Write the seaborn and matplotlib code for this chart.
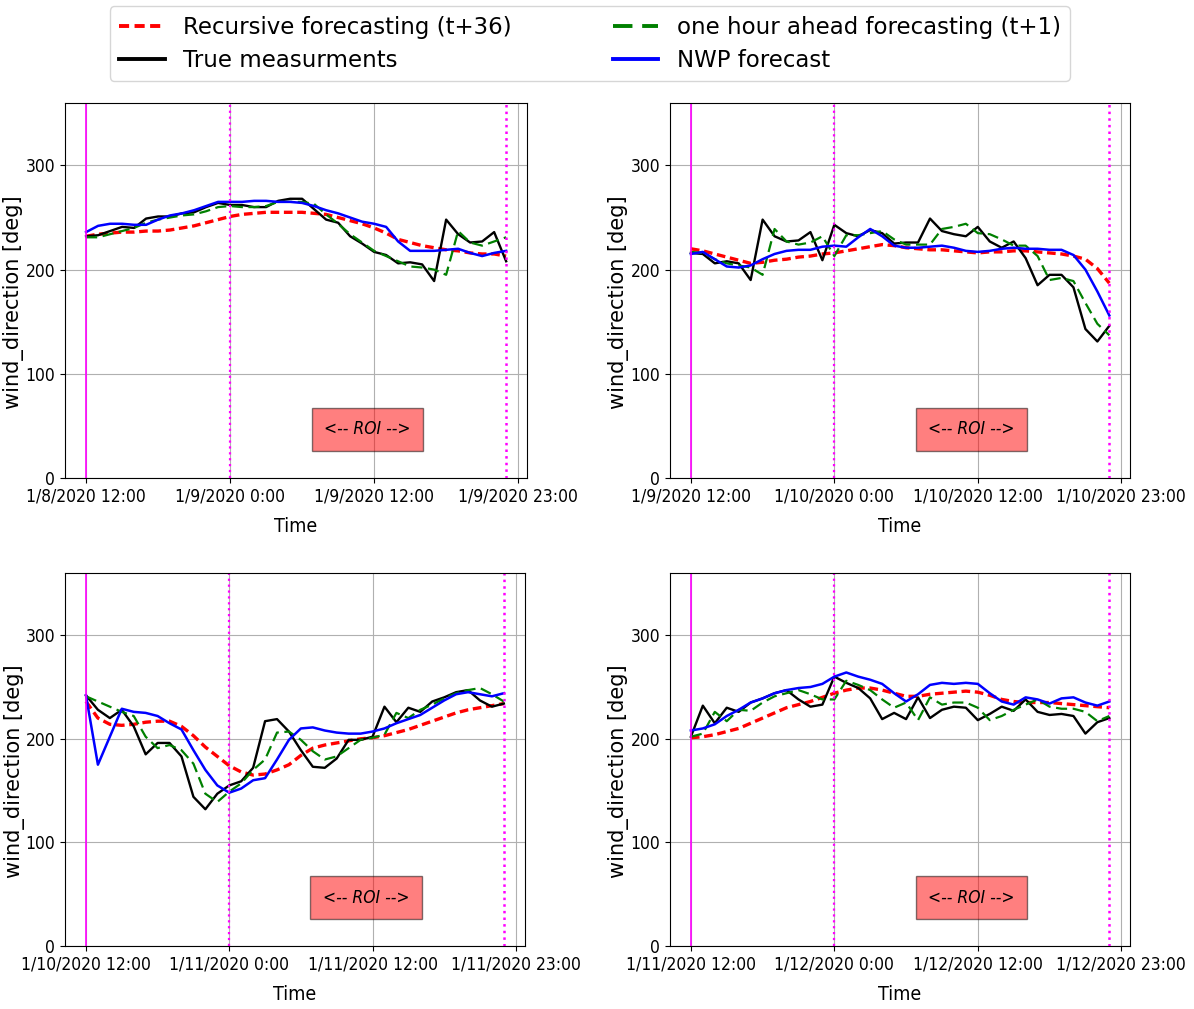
import numpy as np
import pandas as pd
import matplotlib
matplotlib.use("Agg")
import matplotlib.pyplot as plt
import seaborn as sns
from matplotlib import font_manager

# hourly index 0..35 (12:00 -> 23:00 next day)
hours = list(range(36))

# panel tick labels
tick_pos = [0, 12, 24, 36]
tick_labels = [
    ["1/8/2020 12:00", "1/9/2020 0:00", "1/9/2020 12:00", "1/9/2020 23:00"],
    ["1/9/2020 12:00", "1/10/2020 0:00", "1/10/2020 12:00", "1/10/2020 23:00"],
    ["1/10/2020 12:00", "1/11/2020 0:00", "1/11/2020 12:00", "1/11/2020 23:00"],
    ["1/11/2020 12:00", "1/12/2020 0:00", "1/12/2020 12:00", "1/12/2020 23:00"],
]

# panel 1
true_1 = [232, 233, 237, 241, 240, 249, 251, 251, 254, 255, 260, 264, 262, 262, 260, 260, 266, 268,
          268, 258, 248, 245, 232, 225, 217, 214, 206, 207, 205, 189, 248, 234, 226, 227, 236, 208]
t1_1 = [231, 231, 234, 237, 240, 245, 248, 250, 252, 253, 256, 260, 261, 260, 260, 261, 265, 265,
        265, 263, 253, 244, 234, 226, 218, 213, 208, 203, 202, 200, 195, 237, 226, 223, 227, 231]
rec_1 = [232, 234, 235, 236, 236, 237, 237, 238, 240, 242, 245, 248, 251, 253, 254, 255, 255, 255,
         255, 254, 253, 250, 247, 244, 240, 235, 229, 226, 223, 221, 219, 218, 216, 215, 215, 213]
nwp_1 = [236, 242, 244, 244, 243, 243, 248, 252, 254, 257, 261, 265, 265, 265, 266, 266, 265, 265,
         264, 261, 257, 254, 250, 246, 244, 241, 227, 218, 218, 218, 219, 220, 216, 213, 216, 218]

# panel 2
true_2 = [216, 215, 206, 208, 206, 190, 248, 232, 227, 228, 236, 209, 243, 235, 232, 238, 235, 225,
          226, 226, 249, 237, 234, 232, 241, 227, 221, 227, 211, 185, 195, 195, 183, 143, 131, 146]
t1_2 = [217, 216, 210, 206, 204, 202, 195, 239, 227, 224, 226, 232, 213, 233, 233, 235, 237, 229,
        224, 224, 224, 239, 241, 244, 235, 234, 229, 223, 223, 213, 190, 192, 189, 168, 148, 137]
rec_2 = [220, 218, 215, 212, 209, 206, 207, 209, 210, 212, 213, 215, 216, 218, 220, 222, 224, 223,
         221, 220, 219, 219, 218, 217, 216, 217, 217, 218, 218, 217, 216, 215, 213, 210, 201, 187]
nwp_2 = [215, 217, 210, 203, 202, 204, 210, 215, 218, 219, 219, 222, 223, 222, 231, 239, 232, 223,
         221, 221, 222, 223, 221, 218, 217, 218, 220, 221, 220, 220, 219, 219, 214, 200, 179, 156]

# panel 3
true_3 = [242, 228, 220, 228, 212, 185, 196, 196, 183, 144, 132, 147, 155, 159, 172, 217, 219, 207,
          189, 173, 172, 181, 199, 199, 202, 231, 216, 230, 226, 236, 240, 245, 247, 237, 231, 234]
t1_3 = [241, 236, 231, 226, 222, 202, 191, 194, 189, 176, 147, 139, 149, 157, 170, 180, 206, 207,
        199, 188, 180, 183, 191, 199, 201, 204, 225, 220, 228, 233, 239, 244, 247, 249, 243, 236]
rec_3 = [236, 220, 214, 213, 214, 216, 217, 217, 212, 203, 192, 183, 174, 168, 165, 166, 170, 175,
         184, 191, 194, 196, 198, 200, 201, 203, 206, 209, 213, 217, 221, 225, 228, 230, 232, 234]
nwp_3 = [242, 175, 202, 229, 226, 225, 222, 215, 209, 189, 170, 155, 148, 152, 160, 162, 180, 199,
         210, 211, 208, 206, 205, 205, 207, 210, 215, 219, 223, 230, 237, 243, 245, 243, 241, 244]

# panel 4
true_4 = [202, 232, 215, 230, 226, 235, 239, 244, 247, 238, 231, 233, 260, 254, 249, 239, 219, 225,
          219, 240, 220, 228, 231, 230, 218, 224, 231, 227, 238, 226, 223, 224, 222, 205, 216, 220]
t1_4 = [202, 205, 226, 217, 228, 227, 235, 241, 244, 247, 243, 238, 238, 256, 252, 247, 238, 230,
        235, 218, 240, 233, 235, 235, 230, 218, 222, 228, 233, 238, 231, 229, 229, 226, 217, 222]
rec_4 = [201, 202, 204, 207, 210, 215, 220, 225, 230, 233, 236, 240, 244, 247, 249, 249, 247, 244,
         241, 241, 243, 244, 245, 246, 245, 242, 238, 236, 235, 235, 235, 234, 233, 232, 231, 230]
nwp_4 = [208, 210, 214, 222, 228, 235, 239, 244, 247, 249, 250, 253, 260, 264, 260, 257, 253, 244,
         236, 243, 252, 254, 253, 254, 253, 244, 236, 233, 240, 238, 234, 239, 240, 235, 232, 236]

panels = [
    (true_1, t1_1, rec_1, nwp_1),
    (true_2, t1_2, rec_2, nwp_2),
    (true_3, t1_3, rec_3, nwp_3),
    (true_4, t1_4, rec_4, nwp_4),
]

# look for a narrow font for the tick labels
def find_font(keys):
    for key in keys:
        for f in font_manager.findSystemFonts():
            if key.lower() in f.lower().replace("\\", "/").split("/")[-1]:
                return f
    return None

narrow_file = find_font(["DejaVuSansCondensed.ttf", "LiberationSansNarrow-Regular", "RobotoCondensed-Regular"])
narrow_it_file = find_font(["DejaVuSansCondensed-Oblique", "LiberationSansNarrow-Italic", "RobotoCondensed-Italic"])
if narrow_file:
    tick_fp = font_manager.FontProperties(fname=narrow_file, size=12.5)
    time_fp = font_manager.FontProperties(fname=narrow_file, size=14)
else:
    tick_fp = font_manager.FontProperties(family="DejaVu Sans", size=11)
    time_fp = font_manager.FontProperties(family="DejaVu Sans", size=12)
if narrow_it_file:
    roi_fp = font_manager.FontProperties(fname=narrow_it_file, size=12.5)
else:
    roi_fp = font_manager.FontProperties(family="DejaVu Sans", style="italic", size=11.5)

plt.rcParams["font.family"] = ["DejaVu Sans"]

fig = plt.figure(figsize=(11.94, 10.09), dpi=100)
positions = [
    [0.0545, 0.5263, 0.3870, 0.3717],
    [0.5611, 0.5263, 0.3855, 0.3717],
    [0.0545, 0.0624, 0.3850, 0.3697],
    [0.5611, 0.0624, 0.3855, 0.3697],
]

for k, (true_v, t1_v, rec_v, nwp_v) in enumerate(panels):
    ax = fig.add_axes(positions[k])
    sns.lineplot(x=hours, y=rec_v, ax=ax, color="red", linewidth=2.4,
                 linestyle=(0, (2.6, 1.4)), label="Recursive forecasting (t+36)")
    sns.lineplot(x=hours, y=true_v, ax=ax, color="black", linewidth=1.7, label="True measurments")
    sns.lineplot(x=hours, y=t1_v, ax=ax, color="green", linewidth=1.6,
                 linestyle=(0, (5, 2.5)), label="one hour ahead forecasting (t+1)")
    sns.lineplot(x=hours, y=nwp_v, ax=ax, color="blue", linewidth=1.8, label="NWP forecast")
    ax.axvline(hours[0], color="magenta", linewidth=1.2)
    ax.axvline(hours[12], color="magenta", linewidth=1.6, linestyle=":")
    ax.axvline(hours[-1], color="magenta", linewidth=1.8, linestyle=":")
    ax.set_ylim(0, 360)
    ax.set_yticks([0, 100, 200, 300])
    ax.set_xticks(tick_pos)
    ax.set_xticklabels(tick_labels[k], fontproperties=tick_fp)
    for lab in ax.get_yticklabels():
        lab.set_fontproperties(tick_fp)
    ax.grid(True, color="#b0b0b0", linewidth=0.8)
    ax.set_xlabel("Time", fontproperties=time_fp, labelpad=8)
    ax.set_ylabel("wind_direction [deg]", fontsize=15)
    ax.yaxis.set_label_coords(-0.088, 0.47)
    ax.text(0.655, 0.13, "<-- ROI -->", transform=ax.transAxes, ha="center", va="center",
            fontproperties=roi_fp, bbox=dict(facecolor="red", alpha=0.5, pad=9))
    if k == 0:
        handles, labels = ax.get_legend_handles_labels()
    ax.get_legend().remove()

leg = fig.legend(handles, labels, loc="upper center", bbox_to_anchor=(0.494, 1.005), ncol=2,
                 fontsize=16.5, columnspacing=4.4, labelspacing=0.45)
for h in leg.legend_handles:
    h.set_linewidth(2.8)

fig.savefig("out.png", dpi=100)
